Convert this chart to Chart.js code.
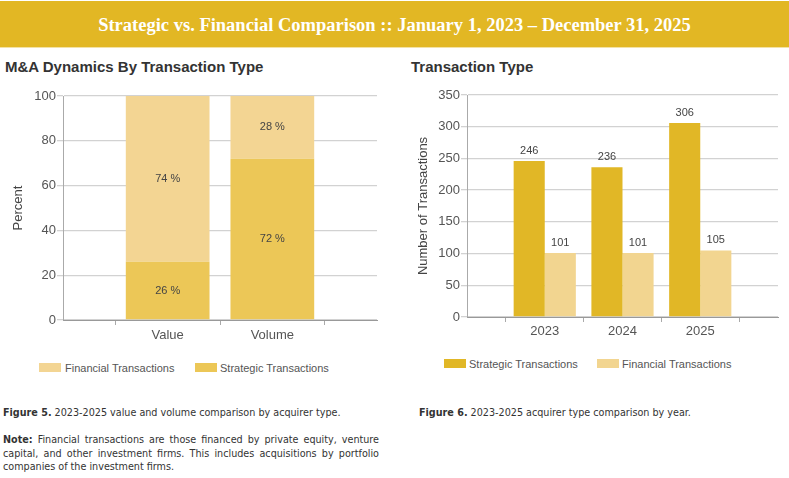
<!DOCTYPE html>
<html><head><meta charset="utf-8">
<script src="https://cdn.jsdelivr.net/npm/chart.js@4"></script>
<style>
html,body{margin:0;padding:0;background:#fff;width:789px;height:478px;overflow:hidden;position:relative;font-family:"Liberation Sans",Arial,sans-serif;}
#hdr{position:absolute;left:0;top:1px;width:789px;height:46px;background:#E2B724;color:#fff;font-family:"Liberation Serif",serif;font-weight:bold;font-size:18.5px;line-height:48px;text-align:center;border-bottom:1px solid #f3e2a6;}
.ttl{position:absolute;font-weight:bold;font-size:15px;color:#333;}
.box{position:absolute;width:22px;height:9px;}
.lg{position:absolute;font-size:11px;color:#555;line-height:12px;}
.cap{position:absolute;font-family:"DejaVu Sans Condensed","DejaVu Sans",sans-serif;font-size:10.7px;color:#333;line-height:13.5px;}
.cw{position:absolute;}
</style></head><body>
<div id="hdr">Strategic vs. Financial Comparison :: January 1, 2023 – December 31, 2025</div>
<div class="ttl" style="left:5px;top:58px;">M&amp;A Dynamics By Transaction Type</div>
<div class="ttl" style="left:411px;top:58px;">Transaction Type</div>
<div class="cw" style="left:0;top:80px;width:390px;height:270px;"><canvas id="c1"></canvas></div>
<div class="cw" style="left:400px;top:80px;width:389px;height:270px;"><canvas id="c2"></canvas></div>

<div class="box" style="left:39px;top:363px;background:#F3D593;"></div>
<div class="lg" style="left:65px;top:362px;">Financial Transactions</div>
<div class="box" style="left:195px;top:363px;background:#ECC757;"></div>
<div class="lg" style="left:220px;top:362px;">Strategic Transactions</div>

<div class="box" style="left:444px;top:359px;background:#E1B726;"></div>
<div class="lg" style="left:469px;top:358px;">Strategic Transactions</div>
<div class="box" style="left:597px;top:359px;background:#F2D590;"></div>
<div class="lg" style="left:622px;top:358px;">Financial Transactions</div>

<div class="cap" style="left:3px;top:406px;width:380px;"><b>Figure 5.</b> 2023-2025 value and volume comparison by acquirer type.</div>
<div class="cap" style="left:419px;top:406px;width:360px;"><b>Figure 6.</b> 2023-2025 acquirer type comparison by year.</div>
<div class="cap" style="left:3px;top:433px;width:376px;text-align:justify;"><b>Note:</b> Financial transactions are those financed by private equity, venture capital, and other investment firms. This includes acquisitions by portfolio companies of the investment firms.</div>

<script>
const shareCategories = ['', 'Value', 'Volume', ''];
const shareStrategic = [null, 26, 72, null];
const shareFinancial = [null, 74, 28, null];
const yearCategories = ['', '2023', '2024', '2025', ''];
const yearStrategic = [null, 246, 236, 306, null];
const yearFinancial = [null, 101, 101, 105, null];
const percentTicks = [0, 20, 40, 60, 80, 100];

Chart.defaults.font.family = '"Liberation Sans", Arial, sans-serif';
Chart.defaults.animation = false;
Chart.defaults.responsive = true;
Chart.defaults.maintainAspectRatio = false;

const labelPlugin = {
  id: 'vlabels',
  afterDatasetsDraw(chart, args, opts) {
    const ctx = chart.ctx;
    ctx.save();
    ctx.font = '11px "Liberation Sans", Arial, sans-serif';
    ctx.fillStyle = '#444';
    ctx.textAlign = 'center';
    ctx.textBaseline = 'middle';
    chart.data.datasets.forEach((ds, i) => {
      const meta = chart.getDatasetMeta(i);
      meta.data.forEach((bar, j) => {
        const v = ds.data[j];
        if (v === null || v === undefined) return;
        if (opts.mode === 'inside') {
          const p = bar.getProps(['x','y','base'], true);
          ctx.fillText(v + ' %', p.x, (p.y + p.base) / 2);
        } else {
          const p = bar.getProps(['x','y'], true);
          ctx.fillText(String(v), p.x, p.y - 10);
        }
      });
    });
    ctx.restore();
  }
};

const tickFont = {size: 13};
new Chart(document.getElementById('c1'), {
  type: 'bar',
  data: {
    labels: shareCategories,
    datasets: [
      {label: 'Strategic Transactions', data: shareStrategic, backgroundColor: '#ECC757', barPercentage: 1, categoryPercentage: 0.8},
      {label: 'Financial Transactions', data: shareFinancial, backgroundColor: '#F3D593', barPercentage: 1, categoryPercentage: 0.8}
    ]
  },
  options: {
    layout: {padding: {top: 16, right: 13, left: 0, bottom: 0}},
    plugins: {legend: {display: false}, tooltip: {enabled: false}, vlabels: {mode: 'inside'}},
    scales: {
      x: {stacked: true, offset: false,
          grid: {drawOnChartArea: false, drawTicks: true, tickLength: 5, color: '#aaa'},
          border: {color: '#999'},
          ticks: {color: '#555', font: tickFont, padding: 3, maxRotation: 0, autoSkip: false},
          afterFit: s => { s.height = 30; }},
      y: {stacked: true, min: 0, max: 100,
          afterBuildTicks: s => { s.ticks = percentTicks.map(v => ({value: v})); },
          grid: {color: '#d2d2d2', tickLength: 6, lineWidth: 1.3},
          border: {color: '#aaa'},
          ticks: {color: '#555', font: tickFont, padding: 1},
          title: {display: true, text: 'Percent', color: '#444', font: {size: 13}, padding: {top: 11, bottom: 0}},
          afterFit: s => { s.width = 63; }}
    }
  },
  plugins: [labelPlugin]
});

new Chart(document.getElementById('c2'), {
  type: 'bar',
  data: {
    labels: yearCategories,
    datasets: [
      {label: 'Strategic Transactions', data: yearStrategic, backgroundColor: '#E1B726', barPercentage: 1, categoryPercentage: 0.8},
      {label: 'Financial Transactions', data: yearFinancial, backgroundColor: '#F2D590', barPercentage: 1, categoryPercentage: 0.8}
    ]
  },
  options: {
    layout: {padding: {top: 15, right: 11, left: 0, bottom: 0}},
    plugins: {legend: {display: false}, tooltip: {enabled: false}, vlabels: {mode: 'above'}},
    scales: {
      x: {offset: false,
          grid: {drawOnChartArea: false, drawTicks: true, tickLength: 5, color: '#aaa'},
          border: {color: '#999'},
          ticks: {color: '#555', font: tickFont, padding: 2, maxRotation: 0, autoSkip: false},
          afterFit: s => { s.height = 33; }},
      y: {min: 0, max: 350,
          ticks: {stepSize: 50, color: '#555', font: tickFont, padding: 1},
          grid: {color: '#d2d2d2', tickLength: 6, lineWidth: 1.3},
          border: {color: '#aaa'},
          title: {display: true, text: 'Number of Transactions', color: '#444', font: {size: 13}, padding: {top: 16, bottom: 0}},
          afterFit: s => { s.width = 67; }}
    }
  },
  plugins: [labelPlugin]
});
</script>
</body></html>
